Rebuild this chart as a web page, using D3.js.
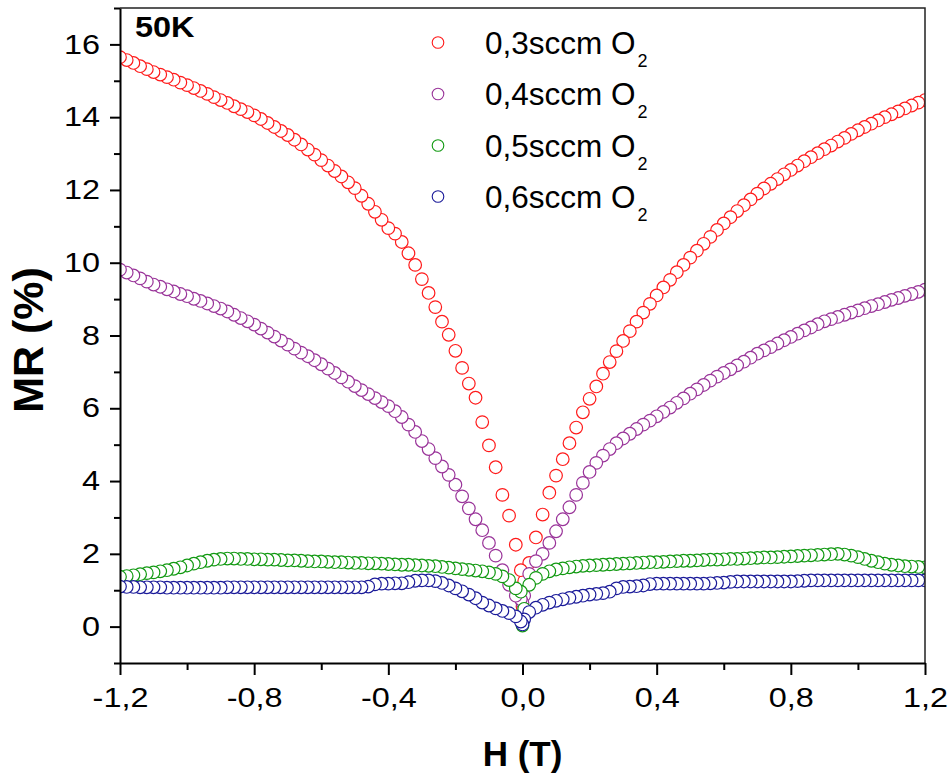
<!DOCTYPE html>
<html>
<head>
<meta charset="utf-8">
<script src="https://cdn.jsdelivr.net/npm/d3@7"></script>
<style>
  body { margin: 0; background: #fff; }
  svg text { font-family: "Liberation Sans", Arial, sans-serif; fill: #000; }
</style>
</head>
<body>
<svg id="chart" width="951" height="777"></svg>
<script>
// Magnetic field sweep (T)
const fieldT = [
  -1.2,-1.18,-1.16,-1.14,-1.12,-1.1,-1.08,-1.06,-1.04,-1.02,
  -1.0,-0.98,-0.96,-0.94,-0.92,-0.9,-0.88,-0.86,-0.84,-0.82,
  -0.8,-0.78,-0.76,-0.74,-0.72,-0.7,-0.68,-0.66,-0.64,-0.62,
  -0.6,-0.58,-0.56,-0.54,-0.52,-0.5,-0.48,-0.46,-0.44,-0.42,
  -0.4,-0.38,-0.36,-0.34,-0.32,-0.3,-0.28,-0.26,-0.24,-0.22,
  -0.2,-0.18,-0.16,-0.14,-0.12,-0.1,-0.08,-0.06,-0.04,-0.02,
  -0.005,0,0.005,
  0.02,0.04,0.06,0.08,0.1,0.12,0.14,0.16,0.18,0.2,
  0.22,0.24,0.26,0.28,0.3,0.32,0.34,0.36,0.38,0.4,
  0.42,0.44,0.46,0.48,0.5,0.52,0.54,0.56,0.58,0.6,
  0.62,0.64,0.66,0.68,0.7,0.72,0.74,0.76,0.78,0.8,
  0.82,0.84,0.86,0.88,0.9,0.92,0.94,0.96,0.98,1.0,
  1.02,1.04,1.06,1.08,1.1,1.12,1.14,1.16,1.18,1.2
];

// MR (%) for each O2 flow
const mr03 = [
  15.65,15.57,15.49,15.40,15.32,15.24,15.17,15.10,15.03,14.95,
  14.88,14.80,14.72,14.64,14.55,14.47,14.39,14.30,14.22,14.14,
  14.05,13.95,13.84,13.73,13.62,13.51,13.38,13.25,13.11,12.97,
  12.82,12.67,12.52,12.37,12.21,12.05,11.84,11.62,11.40,11.18,
  10.95,10.80,10.57,10.26,9.94,9.55,9.17,8.78,8.38,8.02,
  7.58,7.11,6.68,6.29,5.62,4.98,4.38,3.62,3.05,2.25,
  1.55,0.55,1.25,
  1.75,2.45,3.08,3.68,4.15,4.60,5.04,5.47,5.89,6.26,
  6.60,6.95,7.27,7.57,7.85,8.12,8.38,8.63,8.87,9.10,
  9.32,9.53,9.74,9.94,10.14,10.33,10.52,10.71,10.90,11.08,
  11.25,11.42,11.58,11.74,11.90,12.04,12.17,12.30,12.43,12.55,
  12.67,12.79,12.90,13.01,13.12,13.22,13.33,13.43,13.54,13.64,
  13.73,13.82,13.91,14.00,14.08,14.16,14.24,14.32,14.40,14.47
];
const mr04 = [
  9.81,9.73,9.65,9.57,9.48,9.40,9.34,9.27,9.21,9.14,
  9.08,9.01,8.95,8.88,8.81,8.74,8.66,8.57,8.48,8.39,
  8.30,8.19,8.08,7.97,7.86,7.75,7.64,7.53,7.43,7.32,
  7.21,7.09,6.97,6.85,6.73,6.61,6.50,6.39,6.28,6.17,
  6.06,5.92,5.76,5.55,5.35,5.10,4.88,4.63,4.40,4.17,
  3.90,3.58,3.25,2.95,2.65,2.30,1.95,1.55,1.15,0.85,
  0.75,0.65,0.85,
  1.45,1.80,2.00,2.30,2.62,2.95,3.28,3.62,3.95,4.25,
  4.50,4.70,4.88,5.04,5.17,5.30,5.43,5.55,5.66,5.78,
  5.90,6.02,6.15,6.27,6.40,6.52,6.64,6.76,6.87,6.97,
  7.07,7.18,7.28,7.39,7.50,7.59,7.68,7.78,7.87,7.96,
  8.05,8.14,8.22,8.31,8.39,8.45,8.51,8.57,8.63,8.69,
  8.75,8.81,8.86,8.92,8.98,9.03,9.09,9.14,9.20,9.26
];
const mr05 = [
  1.37,1.39,1.41,1.44,1.47,1.49,1.52,1.55,1.59,1.63,
  1.68,1.73,1.77,1.81,1.84,1.86,1.87,1.87,1.86,1.86,
  1.85,1.85,1.84,1.84,1.83,1.82,1.82,1.81,1.80,1.79,
  1.79,1.78,1.77,1.77,1.76,1.75,1.75,1.74,1.74,1.73,
  1.72,1.71,1.70,1.70,1.69,1.68,1.67,1.66,1.64,1.62,
  1.60,1.58,1.56,1.54,1.52,1.49,1.45,1.38,1.28,1.05,
  0.96,0.03,0.49,
  1.15,1.34,1.45,1.52,1.57,1.60,1.63,1.65,1.67,1.68,
  1.69,1.70,1.71,1.72,1.73,1.74,1.75,1.76,1.77,1.77,
  1.78,1.79,1.80,1.81,1.81,1.82,1.83,1.84,1.84,1.85,
  1.86,1.86,1.87,1.88,1.89,1.90,1.90,1.91,1.92,1.93,
  1.94,1.95,1.96,1.97,1.98,1.99,2.00,1.98,1.95,1.91,
  1.86,1.81,1.77,1.73,1.70,1.68,1.66,1.65,1.64,1.63
];
const mr06 = [
  1.10,1.09,1.09,1.08,1.08,1.08,1.08,1.07,1.07,1.07,
  1.07,1.07,1.07,1.07,1.07,1.07,1.08,1.08,1.08,1.08,
  1.08,1.08,1.08,1.08,1.08,1.08,1.08,1.08,1.08,1.08,
  1.08,1.08,1.08,1.08,1.08,1.08,1.08,1.10,1.16,1.18,
  1.18,1.19,1.19,1.22,1.26,1.27,1.27,1.25,1.20,1.13,
  1.05,0.97,0.88,0.78,0.66,0.58,0.50,0.43,0.37,0.28,
  0.14,0.06,0.20,
  0.40,0.52,0.60,0.66,0.71,0.75,0.79,0.82,0.85,0.88,
  0.90,0.92,0.96,1.05,1.09,1.10,1.11,1.13,1.17,1.18,
  1.18,1.18,1.18,1.18,1.18,1.18,1.18,1.19,1.20,1.21,
  1.23,1.24,1.24,1.24,1.24,1.24,1.24,1.24,1.24,1.24,
  1.25,1.26,1.27,1.27,1.27,1.27,1.27,1.27,1.27,1.27,
  1.27,1.27,1.27,1.27,1.27,1.27,1.27,1.27,1.27,1.27
];

const seriesLabels = ["0,3sccm O", "0,4sccm O", "0,5sccm O", "0,6sccm O"];
const seriesColors = ["#ff1a1a", "#993399", "#119911", "#1a1a99"];
const seriesValues = [mr03, mr04, mr05, mr06];

const xTickValues = [-1.2, -0.8, -0.4, 0, 0.4, 0.8, 1.2];
const xTickLabels = ["-1,2", "-0,8", "-0,4", "0,0", "0,4", "0,8", "1,2"];
const xMinorValues = [-1.0, -0.6, -0.2, 0.2, 0.6, 1.0];
const yTickValues = [0, 2, 4, 6, 8, 10, 12, 14, 16];
const yTickLabels = ["0", "2", "4", "6", "8", "10", "12", "14", "16"];
const yMinorValues = [-1, 1, 3, 5, 7, 9, 11, 13, 15, 17];

const svg = d3.select("#chart");
const plot = { left: 120, right: 925, top: 8, bottom: 663 };
const markerR = 6.3;

const x = d3.scaleLinear().domain([-1.2, 1.2]).range([plot.left, plot.right]);
const y = d3.scaleLinear().domain([-1, 17]).range([plot.bottom, plot.top]);

svg.append("defs").append("clipPath").attr("id", "plotClip")
  .append("rect")
  .attr("x", plot.left).attr("y", plot.top)
  .attr("width", plot.right - plot.left).attr("height", plot.bottom - plot.top);

// Data markers: open circles, swept from +H to -H
const dataLayer = svg.append("g").attr("clip-path", "url(#plotClip)");
seriesValues.forEach((vals, i) => {
  const pts = fieldT.map((h, k) => ({ h, v: vals[k] })).reverse();
  dataLayer.append("g")
    .selectAll("circle")
    .data(pts)
    .join("circle")
    .attr("cx", d => x(d.h))
    .attr("cy", d => y(d.v))
    .attr("r", markerR)
    .attr("fill", "#fff")
    .attr("stroke", seriesColors[i])
    .attr("stroke-width", 1.2);
});

// Frame (top and right)
svg.append("path")
  .attr("d", `M${plot.left},${plot.top}H${plot.right}V${plot.bottom}`)
  .attr("fill", "none").attr("stroke", "#222").attr("stroke-width", 1.5);

// Axes
const labelScaleX = 1.2;
const xAxis = svg.append("g").attr("transform", `translate(0,${plot.bottom})`)
  .call(d3.axisBottom(x).tickValues(xTickValues)
    .tickFormat((d, i) => xTickLabels[i]).tickSize(12).tickSizeOuter(0).tickPadding(13));
svg.append("g").attr("transform", `translate(0,${plot.bottom})`)
  .call(d3.axisBottom(x).tickValues(xMinorValues).tickFormat("").tickSize(7).tickSizeOuter(0))
  .select(".domain").remove();

const yAxis = svg.append("g").attr("transform", `translate(${plot.left},0)`)
  .call(d3.axisLeft(y).tickValues(yTickValues)
    .tickFormat((d, i) => yTickLabels[i]).tickSize(10).tickSizeOuter(0).tickPadding(10));
svg.append("g").attr("transform", `translate(${plot.left},0)`)
  .call(d3.axisLeft(y).tickValues(yMinorValues).tickFormat("").tickSize(6).tickSizeOuter(0))
  .select(".domain").remove();

svg.selectAll(".domain").attr("stroke", "#000").attr("stroke-width", 2);
svg.selectAll(".tick line").attr("stroke", "#000").attr("stroke-width", 2);

xAxis.selectAll(".tick text")
  .attr("font-size", 27).attr("font-family", "Liberation Sans, Arial, sans-serif")
  .attr("transform", `scale(${labelScaleX},1)`);
yAxis.selectAll(".tick text")
  .attr("font-size", 27).attr("font-family", "Liberation Sans, Arial, sans-serif")
  .attr("x", -20 / labelScaleX)
  .attr("transform", `scale(${labelScaleX},1)`);

// Axis titles
svg.append("text")
  .attr("x", (plot.left + plot.right) / 2).attr("y", 766)
  .attr("text-anchor", "middle").attr("font-size", 35).attr("font-weight", "bold")
  .text("H (T)");
svg.append("text")
  .attr("transform", "translate(43,340) rotate(-90)")
  .attr("text-anchor", "middle").attr("font-size", 43).attr("font-weight", "bold")
  .text("MR (%)");

// Temperature tag
svg.append("text")
  .attr("transform", "translate(135,37) scale(1.12,1)")
  .attr("font-size", 29).attr("font-weight", "bold")
  .text("50K");

// Legend
const legendRowY = [42.5, 94, 145.5, 196.5];
const legend = svg.append("g");
seriesLabels.forEach((lab, i) => {
  const g = legend.append("g").attr("transform", `translate(0,${legendRowY[i]})`);
  g.append("circle").attr("cx", 438).attr("cy", 0).attr("r", 5.8)
    .attr("fill", "#fff").attr("stroke", seriesColors[i]).attr("stroke-width", 1.1);
  const t = g.append("text").attr("x", 485).attr("y", 11).attr("font-size", 31.5);
  t.append("tspan").text(lab);
  t.append("tspan").attr("dx", 2).attr("dy", 13).attr("font-size", 18).text("2");
});
</script>
</body>
</html>
